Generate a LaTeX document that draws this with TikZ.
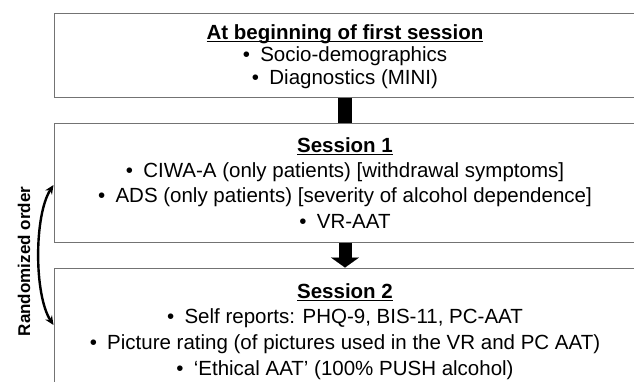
\documentclass[tikz,border=0pt]{standalone}
\usepackage{fontspec}
\setmainfont{Liberation Sans}
\usetikzlibrary{arrows.meta}
\newcommand{\myul}[1]{\setbox0\hbox{#1}\rlap{\rule[-2.6pt]{\wd0}{1.3pt}}\box0}
\begin{document}
\begin{tikzpicture}[x=1pt,y=-1pt,
  box/.style={draw=black!55, line width=1pt, inner sep=0pt, minimum width=582pt},
  txt/.style={anchor=base, inner sep=0pt, font=\fontsize{20.5pt}{24pt}\selectfont},
  bar/.style={line width=14pt, black},
  bigarrow/.style={line width=13pt, black, -{Triangle[length=10pt,width=28pt,line width=0.1pt]}},
  randarrow/.style={line width=2.4pt, black, {Stealth[length=9pt,width=8pt]}-{Stealth[length=9pt,width=8pt]}}]
\clip (0,0) rectangle (634,381);
% boxes
\node[box, minimum height=84pt] (b1) at (345,55) {};
\node[box, minimum height=119pt] (b2) at (345,182.5) {};
\node[box, minimum height=132pt] (b3) at (345,334) {};
% box 1 text
\node[txt] (t1) at (345,39.5) {\myul{\textbf{At beginning of first session}}};
\node[txt] (t1a) at (345,61.5) {•\hspace{0.5em}Socio-demographics};
\node[txt] (t1b) at (345,84.5) {•\hspace{0.5em}Diagnostics (MINI)};
% box 2 text
\node[txt] (t2) at (345,152.5) {\myul{\textbf{Session 1}}};
\node[txt] (t2a) at (345,177.5) {•\hspace{0.5em}CIWA-A (only patients) [withdrawal symptoms]};
\node[txt] (t2b) at (345,202.5) {•\hspace{0.5em}ADS (only patients) [severity of alcohol dependence]};
\node[txt] (t2c) at (345,228) {•\hspace{0.5em}VR-AAT};
% box 3 text
\node[txt] (t3) at (345,298.5) {\myul{\textbf{Session 2}}};
\node[txt] (t3a) at (345,323.5) {•\hspace{0.5em}Self reports: PHQ-9, BIS-11, PC-AAT};
\node[txt] (t3b) at (345,349.5) {•\hspace{0.5em}Picture rating (of pictures used in the VR and PC AAT)};
\node[txt] (t3c) at (345,375.5) {•\hspace{0.5em}‘Ethical AAT’ (100\% PUSH alcohol)};
% connectors
\draw[bar] (b1.south) -- (b2.north);
\draw[bigarrow] (b2.south) -- (b3.north);
% randomized order
\coordinate (r1) at ([yshift=-2.5pt]b2.west);
\coordinate (r2) at ([yshift=9pt]b3.west);
\draw[randarrow] (r1) .. controls (34,215) and (34,295) .. (r2);
\node[rotate=90, inner sep=0pt, font=\bfseries\fontsize{17pt}{20pt}\selectfont] (ro) at (24,261.5) {Randomized order};
\end{tikzpicture}
\end{document}
